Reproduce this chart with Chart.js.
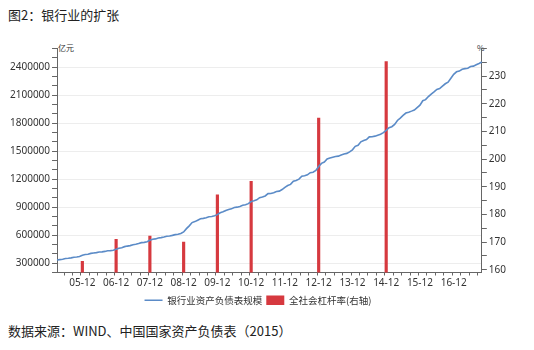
<!DOCTYPE html>
<html>
<head>
<meta charset="utf-8">
<script src="https://cdn.jsdelivr.net/npm/chart.js@4.4.0/dist/chart.umd.min.js"></script>
<style>
    html, body { margin: 0; padding: 0; background: #fff; }
    body { width: 534px; height: 350px; position: relative; overflow: hidden; font-family: "Noto Sans CJK SC", "Noto Sans", sans-serif; color: #222; }
    #title { position: absolute; left: 8px; top: 5px; font-size: 13px; }
    #source { position: absolute; left: 8px; top: 321px; font-size: 13px; }
    .unit { position: absolute; top: 42px; font-size: 8px; color: #333; }
    #chartBox { position: absolute; left: 0; top: 0; width: 534px; height: 315px; }
</style>
</head>
<body>
<div id="title">图2：银行业的扩张</div>
<div class="unit" style="left: 58px;">亿元</div>
<div class="unit" style="left: 477px;">%</div>
<div id="chartBox"><canvas id="chart"></canvas></div>
<div id="source">数据来源：WIND、中国国家资产负债表（2015）</div>

<script>
// monthly, 2005-03 .. 2017-10 (亿元)
const startYear = 2005;
const startMonth = 3;
const bankAssets = [
    334000, 338000, 342000, 350000, 352000, 357000, 364000, 366000, 372000, 385000,
    392000, 396000, 405000, 409000, 413000, 420000, 421000, 426000, 433000, 434000, 439000, 448000,
    460000, 466000, 477000, 483000, 488000, 498000, 502000, 510000, 520000, 523000, 530000, 545000,
    556000, 560000, 569000, 574000, 580000, 588000, 591000, 598000, 606000, 610000, 618000, 635000,
    670000, 700000, 735000, 745000, 760000, 775000, 780000, 787000, 797000, 800000, 808000, 820000,
    840000, 850000, 865000, 875000, 882000, 897000, 900000, 908000, 920000, 925000, 938000, 960000,
    968000, 979000, 1002000, 1009000, 1020000, 1045000, 1046000, 1055000, 1068000, 1072000, 1089000, 1113000,
    1132000, 1144000, 1178000, 1185000, 1200000, 1232000, 1236000, 1247000, 1269000, 1275000, 1293000, 1336000,
    1369000, 1383000, 1416000, 1426000, 1435000, 1442000, 1447000, 1460000, 1470000, 1476000, 1492000, 1514000,
    1552000, 1563000, 1600000, 1614000, 1624000, 1653000, 1655000, 1661000, 1671000, 1681000, 1699000, 1723000,
    1751000, 1762000, 1787000, 1829000, 1855000, 1883000, 1908000, 1918000, 1929000, 1941000, 1967000, 1993000,
    2040000, 2052000, 2085000, 2112000, 2135000, 2162000, 2170000, 2196000, 2222000, 2239000, 2281000, 2323000,
    2350000, 2358000, 2378000, 2384000, 2389000, 2407000, 2411000, 2426000, 2440000, 2456000
];

// year-end leverage ratio (%), right axis
const leverageMonths = ['2005-12', '2006-12', '2007-12', '2008-12', '2009-12', '2010-12', '2012-12', '2014-12'];
const leverageValues = [163, 171, 172.2, 170, 187.1, 192, 214.8, 235.3];

const rightTicks = [160, 165, 170, 175, 180, 185, 190, 195, 200, 205, 210, 215, 220, 225, 230, 235, 240];

const months = [];
for (let i = 0; i < bankAssets.length; i++) {
    const m = startMonth - 1 + i;
    const y = startYear + Math.floor(m / 12);
    const mm = (m % 12) + 1;
    months.push(y + '-' + String(mm).padStart(2, '0'));
}
const leverageData = months.map(label => {
    const idx = leverageMonths.indexOf(label);
    return idx >= 0 ? leverageValues[idx] : null;
});

const tickFont = { family: '"Noto Sans", sans-serif', size: 10 };
const axisColor = '#666';

new Chart(document.getElementById('chart'), {
    type: 'bar',
    data: {
        labels: months,
        datasets: [{
            type: 'line',
            label: '银行业资产负债表规模',
            data: bankAssets,
            yAxisID: 'y',
            borderColor: '#5b8bc7',
            borderWidth: 1.6,
            pointRadius: 0,
            pointStyle: 'line',
            tension: 0,
            order: 1
        }, {
            type: 'bar',
            label: '全社会杠杆率(右轴)',
            data: leverageData,
            yAxisID: 'y1',
            backgroundColor: '#d6393f',
            borderWidth: 0,
            pointStyle: 'rect',
            barThickness: 2.5,
            order: 2
        }]
    },
    options: {
        responsive: true,
        maintainAspectRatio: false,
        animation: false,
        layout: { padding: { top: 48.5, left: 8, right: 26, bottom: 0 } },
        plugins: {
            tooltip: { enabled: false },
            legend: {
                position: 'bottom',
                labels: {
                    usePointStyle: true,
                    pointStyleWidth: 18,
                    boxHeight: 11,
                    color: '#333',
                    padding: 4,
                    font: { family: '"Noto Sans CJK SC", sans-serif', size: 9.5 }
                }
            }
        },
        scales: {
            x: {
                offset: false,
                border: { color: axisColor },
                grid: {
                    drawOnChartArea: false,
                    tickLength: 3,
                    tickColor: ctx => (ctx.index % 3 === 0 || months[ctx.index]?.endsWith('-12')) ? axisColor : 'rgba(0,0,0,0)'
                },
                ticks: {
                    autoSkip: false,
                    maxRotation: 0,
                    padding: 2,
                    color: '#333',
                    font: tickFont,
                    callback: function(value, index) {
                        const label = months[index];
                        return label.endsWith('-12') ? label.slice(2) : '';
                    }
                }
            },
            y: {
                position: 'left',
                min: 200000,
                max: 2600000,
                border: { color: axisColor },
                grid: {
                    tickLength: 5,
                    tickColor: axisColor,
                    color: ctx => (ctx.tick && ctx.tick.value % 300000 === 0 && ctx.tick.value <= 2400000) ? '#ededed' : 'rgba(0,0,0,0)'
                },
                ticks: {
                    stepSize: 100000,
                    autoSkip: false,
                    padding: 2,
                    color: '#333',
                    font: tickFont,
                    callback: value => (value % 300000 === 0 && value >= 300000 && value <= 2400000) ? String(value) : ''
                }
            },
            y1: {
                position: 'right',
                min: 159,
                max: 240,
                border: { color: axisColor },
                grid: { drawOnChartArea: false, tickLength: 5, tickColor: axisColor },
                afterBuildTicks: scale => {
                    scale.ticks = rightTicks.map(v => ({ value: v }));
                },
                ticks: {
                    autoSkip: false,
                    padding: 2,
                    color: '#333',
                    font: tickFont,
                    callback: value => (value % 10 === 0 && value <= 230) ? String(value) : ''
                }
            }
        }
    }
});
</script>
</body>
</html>
